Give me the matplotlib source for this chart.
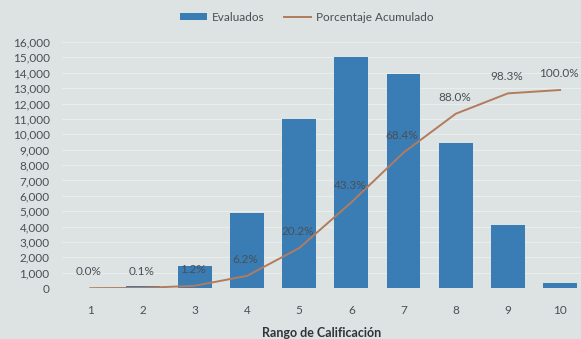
import matplotlib
matplotlib.use("Agg")
import matplotlib.pyplot as plt
from matplotlib.ticker import FuncFormatter, MultipleLocator

# Score ranges, evaluated counts and cumulative percentage
rangos = [1, 2, 3, 4, 5, 6, 7, 8, 9, 10]
evaluados = [10, 130, 1420, 4900, 10970, 15030, 13930, 9420, 4130, 320]
acumulado = [0.0, 0.1, 1.2, 6.2, 20.2, 43.3, 68.4, 88.0, 98.3, 100.0]
etiquetas_pct = ["0.0%", "0.1%", "1.2%", "6.2%", "20.2%", "43.3%",
                 "68.4%", "88.0%", "98.3%", "100.0%"]

BG = "#dde3e2"
BAR = "#3a7db4"
LINE = "#b27b5e"
TXT = "#4a4f55"

plt.rcParams["font.family"] = ["Lato", "DejaVu Sans"]

fig = plt.figure(figsize=(5.81, 3.39), dpi=100, facecolor=BG)
ax = fig.add_axes([0.107, 0.150, 0.893, 0.726], facecolor=BG)

bars = ax.bar(rangos, evaluados, width=0.65, color=BAR, zorder=2,
              label="Evaluados")

ax.set_ylim(0, 16000)
ax.set_xlim(0.46, 10.40)
ax.yaxis.set_major_locator(MultipleLocator(1000))
ax.yaxis.set_major_formatter(FuncFormatter(lambda v, p: f"{int(v):,}"))
ax.set_xticks(rangos)
ax.tick_params(axis="both", length=0, labelsize=8.5, colors=TXT)
ax.tick_params(axis="x", pad=12)
ax.tick_params(axis="y", pad=9)
ax.grid(axis="y", color="#e9eeec", linewidth=0.8, zorder=0)
for s in ax.spines.values():
    s.set_visible(False)

ax.set_xlabel("Rango de Calificación", fontsize=9, color="#2f3338",
              fontweight="bold", labelpad=8)

# Cumulative percentage on a hidden secondary scale
ax2 = ax.twinx()
ax2.set_ylim(0, 124.2)
ax2.axis("off")
linea, = ax2.plot(rangos, acumulado, color=LINE, linewidth=1.4, zorder=3,
                  label="Porcentaje Acumulado")
for x, y, t in zip(rangos, acumulado, etiquetas_pct):
    ax2.annotate(t, (x, y), xytext=(-1, 12), textcoords="offset points",
                 ha="center", va="center", fontsize=8.5, color=TXT)

fig.legend(handles=[bars, linea], loc="center", bbox_to_anchor=(0.528, 0.949),
           ncol=2, frameon=False, fontsize=8.5, labelcolor=TXT,
           handlelength=2.3, handleheight=0.55, columnspacing=1.6,
           handletextpad=0.4)

fig.savefig("out.png", dpi=100, facecolor=BG)
